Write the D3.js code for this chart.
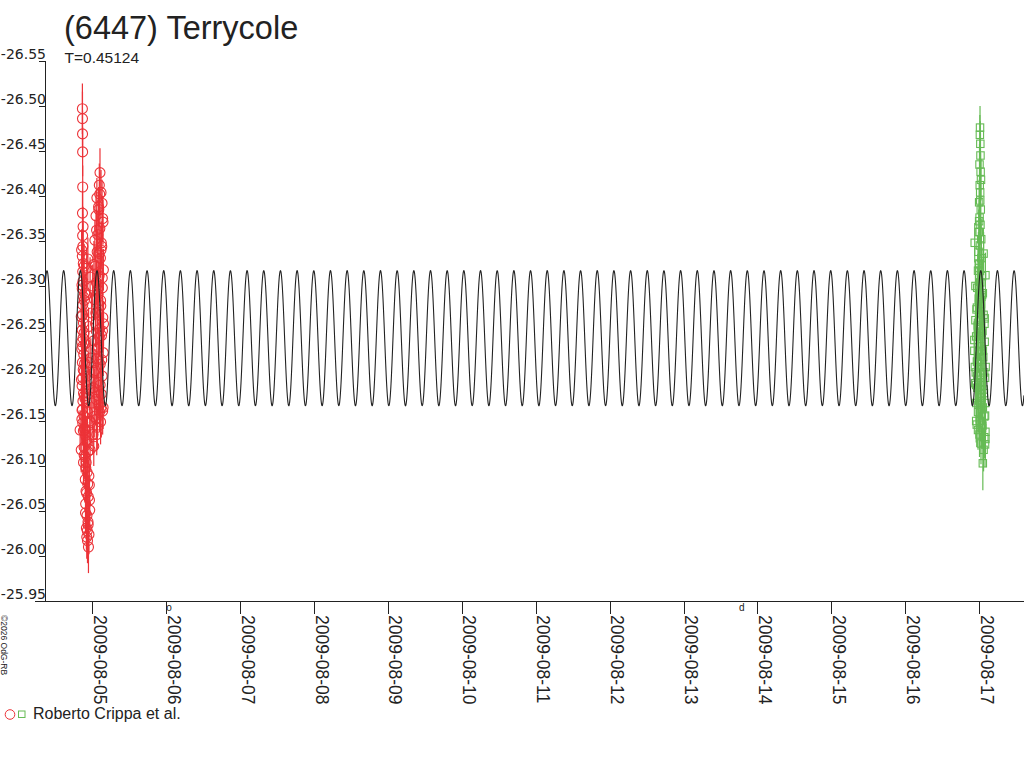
<!DOCTYPE html>
<html><head><meta charset="utf-8">
<script src="https://cdn.jsdelivr.net/npm/d3@7"></script>
<style>
html,body{margin:0;padding:0;background:#fff;overflow:hidden}
svg{display:block}
text{font-family:"Liberation Sans",Arial,sans-serif;fill:#222}
</style></head><body>
<svg id="chart" width="1024" height="768"></svg>
<script>
// ---------- data ----------
const title = "(6447) Terrycole";
const periodLabel = "T=0.45124";
const periodDays = 0.45124;
const credit = "\u00A92026 OdG-RB";
const legendLabel = "Roberto Crippa et al.";
// times are day offsets from 2009-08-05 00:00 UTC
const xTickLabels = ["2009-08-05","2009-08-06","2009-08-07","2009-08-08","2009-08-09","2009-08-10","2009-08-11","2009-08-12","2009-08-13","2009-08-14","2009-08-15","2009-08-16","2009-08-17"];
const yTickValues = [-26.55,-26.50,-26.45,-26.40,-26.35,-26.30,-26.25,-26.20,-26.15,-26.10,-26.05,-26.00,-25.95];
const moonT = [1.038, 8.788];
const moonSym = ["o", "d"];
// fitted model (two equal maxima per rotation)
const modelMean = -26.242, modelAmp = 0.075, modelEpoch = 0.064;

const redT = [
-0.134,-0.133,-0.132,-0.131,-0.130,-0.133,-0.125,-0.131,-0.128,-0.135,
-0.122,-0.130,-0.127,-0.136,-0.118,-0.129,-0.132,-0.120,-0.137,-0.126,
-0.131,-0.116,-0.134,-0.123,-0.129,-0.138,-0.119,-0.127,-0.133,-0.114,
-0.130,-0.121,
-0.060,-0.030,-0.085,-0.010,-0.050,-0.095,-0.020,-0.070,-0.040,-0.005,
-0.065,-0.100,-0.035,0.005,-0.075,-0.045,
0.104,0.095,0.118,0.062,0.132,0.088,0.050,0.145,0.102,0.074,
0.035,0.128,0.066,0.110,0.022,0.150,0.092,0.056,0.136,0.080,
0.030,0.115,0.070,0.142,0.045,0.098,0.125,0.018,0.084,0.148,
0.060,0.107,0.038,0.133,0.076,0.012,0.120,0.052,0.094,0.140,
0.026,0.112,0.068,0.118,
-0.105,-0.090,-0.075,-0.112,-0.060,-0.098,-0.083,-0.119,-0.070,-0.095,
-0.040,-0.085,-0.055,-0.090,-0.035,-0.072,-0.058,-0.080,-0.045,-0.065,
-0.052,-0.075,-0.165,-0.150,0.060,
-0.145,-0.110,-0.140,-0.108,-0.150,-0.112,-0.142,-0.104,-0.147,-0.109,
-0.139,-0.102,-0.144,-0.111,-0.141,
0.100,0.085,0.140,0.058,0.122,0.090,0.040,0.135,0.078,0.112,
0.048,0.152,0.095,0.064,0.128,0.020,0.106,0.082,0.146,0.054,
0.117,0.072,0.138,0.033,0.098,
-0.020,-0.100,0.010,-0.068,-0.030,-0.110,0.020,-0.088,-0.046,-0.062,
-0.078,-0.038,-0.092,-0.056,-0.068];
const redMag = [
-26.497,-26.486,-26.469,-26.449,-26.410,-26.381,-26.366,-26.356,-26.344,-26.333,
-26.325,-26.316,-26.305,-26.297,-26.288,-26.279,-26.268,-26.259,-26.251,-26.242,
-26.233,-26.224,-26.215,-26.207,-26.198,-26.189,-26.181,-26.172,-26.163,-26.156,
-26.148,-26.139,
-26.330,-26.310,-26.290,-26.270,-26.255,-26.236,-26.220,-26.200,-26.185,-26.170,
-26.160,-26.175,-26.150,-26.300,-26.320,-26.215,
-26.426,-26.412,-26.404,-26.398,-26.392,-26.385,-26.378,-26.371,-26.364,-26.357,
-26.351,-26.344,-26.338,-26.331,-26.324,-26.318,-26.311,-26.304,-26.298,-26.291,
-26.285,-26.278,-26.271,-26.265,-26.258,-26.252,-26.245,-26.239,-26.232,-26.226,
-26.219,-26.213,-26.206,-26.200,-26.193,-26.187,-26.180,-26.174,-26.168,-26.161,
-26.155,-26.149,-26.143,-26.165,
-26.142,-26.134,-26.128,-26.121,-26.116,-26.110,-26.104,-26.104,-26.093,-26.085,
-26.079,-26.072,-26.066,-26.058,-26.051,-26.045,-26.038,-26.031,-26.024,-26.017,
-26.010,-26.021,-26.140,-26.118,-26.135,
-26.340,-26.322,-26.301,-26.284,-26.266,-26.248,-26.230,-26.214,-26.196,-26.178,
-26.162,-26.292,-26.238,-26.205,-26.152,
-26.402,-26.388,-26.375,-26.362,-26.348,-26.336,-26.322,-26.309,-26.296,-26.284,
-26.270,-26.258,-26.244,-26.230,-26.218,-26.204,-26.190,-26.178,-26.165,-26.152,
-26.340,-26.296,-26.250,-26.182,-26.160,
-26.148,-26.140,-26.135,-26.126,-26.118,-26.112,-26.122,-26.098,-26.089,-26.080,
-26.070,-26.062,-26.048,-26.035,-26.028];
const redErr = [
0.028,0.030,0.026,0.027,0.024,0.025,0.022,0.024,0.026,0.023,
0.025,0.022,0.024,0.026,0.023,0.025,0.024,0.022,0.025,0.023,
0.026,0.024,0.022,0.025,0.023,0.024,0.026,0.022,0.025,0.023,
0.024,0.026,
0.024,0.022,0.025,0.023,0.021,0.024,0.022,0.025,0.023,0.024,
0.022,0.025,0.023,0.024,0.022,0.025,
0.027,0.024,0.025,0.022,0.026,0.023,0.024,0.025,0.022,0.026,
0.023,0.025,0.024,0.022,0.026,0.023,0.025,0.024,0.022,0.026,
0.023,0.025,0.024,0.022,0.026,0.023,0.025,0.024,0.022,0.026,
0.023,0.025,0.024,0.022,0.026,0.023,0.025,0.024,0.022,0.026,
0.023,0.025,0.024,0.033,
0.024,0.022,0.025,0.023,0.021,0.024,0.022,0.025,0.023,0.024,
0.022,0.025,0.023,0.024,0.022,0.025,0.023,0.024,0.022,0.025,
0.029,0.024,0.022,0.025,0.023,
0.023,0.025,0.022,0.024,0.026,0.023,0.025,0.022,0.024,0.023,
0.025,0.022,0.024,0.026,0.023,
0.024,0.022,0.025,0.023,0.024,0.026,0.022,0.025,0.023,0.024,
0.022,0.025,0.023,0.024,0.026,0.022,0.025,0.023,0.024,0.022,
0.025,0.023,0.024,0.026,0.022,
0.023,0.025,0.022,0.024,0.023,0.025,0.022,0.024,0.023,0.025,
0.022,0.024,0.023,0.025,0.022];

const greenT = [
12.012,12.010,12.016,12.005,12.020,12.008,12.014,12.000,12.022,12.006,
12.018,11.995,12.028,12.010,11.990,12.030,12.003,11.985,12.040,12.015,
11.975,12.050,11.995,12.025,11.965,12.060,12.005,11.980,12.045,11.960,
12.075,12.020,11.990,12.055,11.970,12.035,11.955,12.080,12.000,11.975,
12.065,12.030,11.962,12.050,11.985,12.070,12.010,11.968,12.040,12.085,
12.085,12.080,12.070,12.060,12.050,
11.950,12.088,11.958,12.072,11.935,12.040,11.985,12.082,12.025,12.000,
11.940,12.060,11.995,12.085,11.950,12.030,11.970,12.075,12.010,11.935,
12.050,11.980,12.068,11.948,12.020,11.990,12.080,11.960,12.045,12.005,
11.975,12.062,11.942,12.035,12.015,12.000,12.025,12.018,11.998,12.008];
const greenMag = [
-26.476,-26.468,-26.458,-26.435,-26.427,-26.412,-26.404,-26.393,-26.385,-26.376,
-26.368,-26.360,-26.352,-26.345,-26.338,-26.331,-26.324,-26.317,-26.311,-26.304,
-26.298,-26.292,-26.286,-26.280,-26.274,-26.268,-26.262,-26.256,-26.250,-26.244,
-26.238,-26.233,-26.227,-26.221,-26.216,-26.210,-26.204,-26.198,-26.193,-26.187,
-26.181,-26.176,-26.170,-26.165,-26.160,-26.155,-26.150,-26.146,-26.142,-26.138,
-26.130,-26.124,-26.132,-26.118,-26.103,
-26.262,-26.210,-26.190,-26.258,-26.228,-26.290,-26.140,-26.170,-26.125,-26.320,
-26.348,-26.336,-26.325,-26.312,-26.300,-26.288,-26.276,-26.264,-26.252,-26.240,
-26.228,-26.216,-26.204,-26.192,-26.180,-26.168,-26.156,-26.150,-26.145,-26.135,
-26.200,-26.185,-26.210,-26.248,-26.395,-26.372,-26.418,-26.445,-26.300,-26.360];
const greenErr = [
0.024,0.022,0.025,0.023,0.021,0.024,0.022,0.025,0.023,0.024,
0.022,0.025,0.023,0.024,0.022,0.025,0.023,0.024,0.022,0.025,
0.023,0.024,0.022,0.025,0.023,0.024,0.022,0.025,0.023,0.024,
0.022,0.025,0.023,0.024,0.022,0.025,0.023,0.024,0.022,0.025,
0.023,0.024,0.022,0.025,0.023,0.024,0.022,0.025,0.023,0.024,
0.022,0.025,0.023,0.024,0.030,
0.023,0.024,0.022,0.025,0.023,0.024,0.022,0.025,0.023,0.024,
0.022,0.024,0.023,0.025,0.022,0.024,0.023,0.025,0.022,0.024,
0.023,0.025,0.022,0.024,0.023,0.025,0.022,0.024,0.023,0.025,
0.022,0.024,0.023,0.025,0.022,0.024,0.023,0.025,0.022,0.024];

// ---------- drawing ----------
const W = 1024, H = 768;
const plotL = 45, plotR = 1024, plotT = 61, plotB = 601;
const svg = d3.select("#chart");
const x = d3.scaleLinear().domain([-0.64, 12.607]).range([plotL, plotR]);
const y = d3.scaleLinear().domain([-26.55, -25.95]).range([plotT, plotB]);
const fmt = d3.formatLocale({decimal:".", thousands:",", grouping:[3], currency:["",""], minus:"-"}).format(".2f");
const ink = "#222";
const redC = "#ec3338", greenC = "#66bb55";

// title
svg.append("text").attr("x", 64).attr("y", 39).style("font-size", "32.5px").text(title);
svg.append("text").attr("x", 64.5).attr("y", 63).style("font-size", "15.5px").text(periodLabel);

// y axis
const yAxis = d3.axisLeft(y).tickValues(yTickValues).tickFormat(fmt).tickSize(6).tickSizeOuter(0).tickPadding(-7);
const gy = svg.append("g").attr("transform", `translate(${plotL},0)`).call(yAxis);
gy.select(".domain").remove();
gy.selectAll(".tick line").attr("stroke", ink).attr("shape-rendering", "crispEdges");
gy.selectAll(".tick text").attr("dy", null).attr("y", -3)
  .style("font-family", "'DejaVu Sans',sans-serif").style("font-size", "14px").attr("fill", ink);
svg.append("line").attr("x1", plotL).attr("x2", plotL).attr("y1", plotT).attr("y2", plotB)
  .attr("stroke", ink).attr("shape-rendering", "crispEdges");

// x axis
const xTickVals = xTickLabels.map((s, i) => i);
const xAxis = d3.axisBottom(x).tickValues(xTickVals).tickFormat((d, i) => xTickLabels[i]).tickSize(13).tickSizeOuter(0);
const gx = svg.append("g").attr("transform", `translate(0,${plotB})`).call(xAxis);
gx.select(".domain").remove();
gx.selectAll(".tick line").attr("stroke", ink).attr("shape-rendering", "crispEdges");
gx.selectAll(".tick text").attr("y", null).attr("dy", null).attr("x", null)
  .attr("text-anchor", "start").attr("transform", "translate(1,14) rotate(90)")
  .style("font-family", "'Liberation Sans',Arial,sans-serif").style("font-size", "17.5px").attr("fill", ink);
svg.append("line").attr("x1", 35).attr("x2", plotR).attr("y1", plotB).attr("y2", plotB)
  .attr("stroke", ink).attr("shape-rendering", "crispEdges");

// moon phase marks
svg.selectAll("text.moon").data(moonT).enter().append("text").attr("class", "moon")
  .attr("x", d => x(d)).attr("y", 611).attr("text-anchor", "middle").style("font-size", "10px")
  .text((d, i) => moonSym[i]);

// credit
svg.append("text").attr("transform", "translate(1,615) rotate(90)").style("font-size", "8.5px").text(credit);

// data
svg.append("clipPath").attr("id", "plotclip").append("rect")
  .attr("x", plotL).attr("y", 0).attr("width", plotR - plotL).attr("height", plotB);
const gd = svg.append("g").attr("clip-path", "url(#plotclip)");

const red = redT.map((t, i) => ({t, m: redMag[i], e: redErr[i]}));
const green = greenT.map((t, i) => ({t, m: greenMag[i], e: greenErr[i]}));

function drawSeries(data, color, shape) {
  const g = gd.append("g");
  g.selectAll("line").data(data).enter().append("line")
    .attr("x1", d => x(d.t)).attr("x2", d => x(d.t))
    .attr("y1", d => y(d.m - d.e)).attr("y2", d => y(d.m + d.e))
    .attr("stroke", color).attr("stroke-width", 1.2);
  if (shape === "circle") {
    g.selectAll("circle").data(data).enter().append("circle")
      .attr("cx", d => x(d.t)).attr("cy", d => y(d.m)).attr("r", 5)
      .attr("fill", "none").attr("stroke", color).attr("stroke-width", 1.1);
  } else {
    g.selectAll("rect").data(data).enter().append("rect")
      .attr("x", d => x(d.t) - 3.7).attr("y", d => y(d.m) - 3.7).attr("width", 7.4).attr("height", 7.4)
      .attr("fill", "none").attr("stroke", color).attr("stroke-width", 1.1);
  }
}
drawSeries(red, redC, "circle");
drawSeries(green, greenC, "square");

// model curve
const xd = x.domain();
const tSamples = d3.range(xd[0], xd[1], 0.002);
const halfP = periodDays / 2;
const curve = tSamples.map(t => [t, modelMean - modelAmp * Math.cos(2 * Math.PI * (t - modelEpoch) / halfP)]);
gd.append("path").datum(curve)
  .attr("d", d3.line().x(d => x(d[0])).y(d => y(d[1])))
  .attr("fill", "none").attr("stroke", ink).attr("stroke-width", 1.1);

// legend
svg.append("circle").attr("cx", 10).attr("cy", 714.5).attr("r", 4.8).attr("fill", "none").attr("stroke", redC);
svg.append("rect").attr("x", 18.5).attr("y", 711).attr("width", 6.5).attr("height", 6.5).attr("fill", "none").attr("stroke", greenC);
svg.append("text").attr("x", 33).attr("y", 718.5).style("font-size", "16px").text(legendLabel);
</script>
</body></html>
